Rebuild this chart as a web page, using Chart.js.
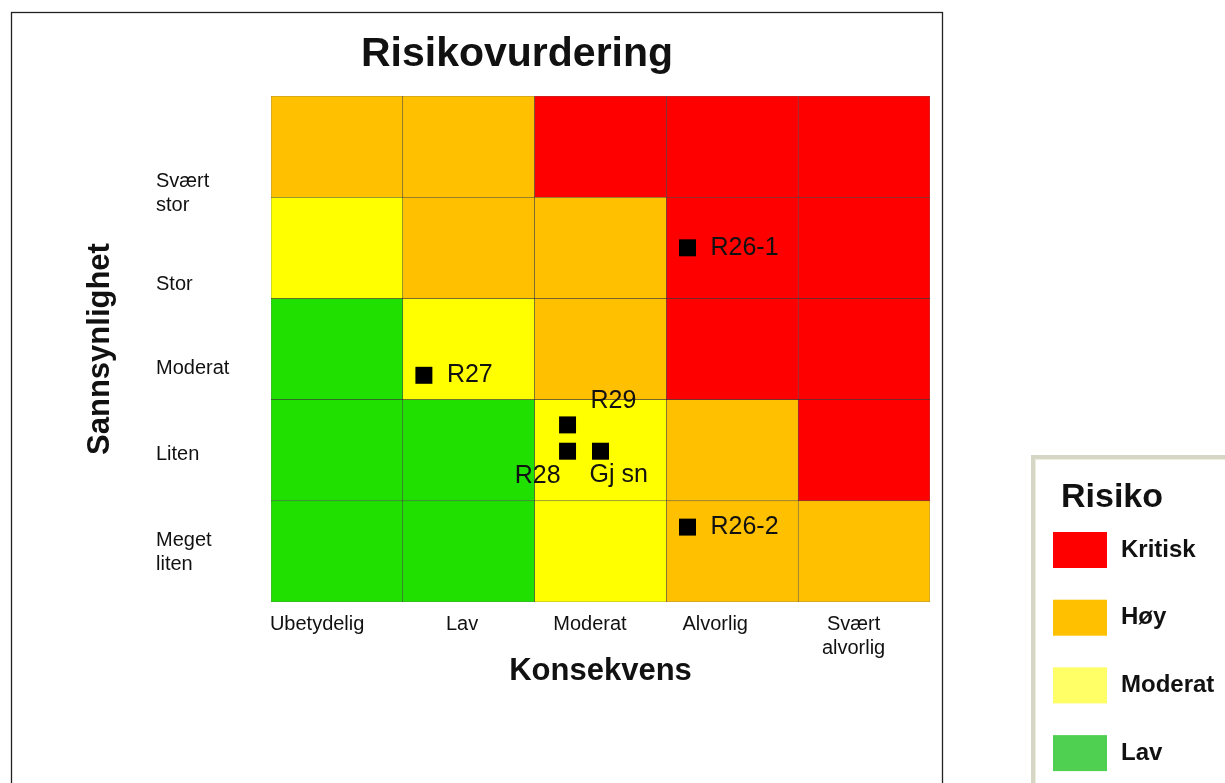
<!DOCTYPE html>
<html>
<head>
<meta charset="utf-8">
<script src="https://cdn.jsdelivr.net/npm/chart.js@4.4.1/dist/chart.umd.min.js"></script>
<style>
html,body{margin:0;padding:0;background:#ffffff;}
#wrap{width:1225px;height:783px;position:relative;overflow:hidden;}
</style>
</head>
<body>
<div id="wrap"><canvas id="c" width="1225" height="783"></canvas></div>
<script>
// ---------- DATA ----------
const chartTitle = 'Risikovurdering';
const xTitle = 'Konsekvens';
const yTitle = 'Sannsynlighet';
const consequences = ['Ubetydelig', 'Lav', 'Moderat', 'Alvorlig', ['Svært', 'alvorlig']];
// bottom to top
const likelihoods = [['Meget', 'liten'], 'Liten', 'Moderat', 'Stor', ['Svært', 'stor']];
const riskLevels = ['Lav', 'Moderat', 'Høy', 'Kritisk'];
// risk level index per cell; rows bottom (Meget liten) to top (Svært stor)
const riskMatrix = [
  [0, 0, 1, 2, 2],
  [0, 0, 1, 2, 3],
  [0, 1, 2, 3, 3],
  [1, 2, 2, 3, 3],
  [2, 2, 3, 3, 3]
];
const legendTitle = 'Risiko';
const pointLabels = ['R26-1', 'R26-2', 'R27', 'R29', 'R28', 'Gj sn'];
const pointX = [3.16, 3.16, 1.16, 2.25, 2.25, 2.50];
const pointY = [3.50, 0.74, 2.24, 1.75, 1.49, 1.49];

// ---------- STYLE / PLACEMENT ----------
const cellColors = ['#20E000', '#FFFF00', '#FFC000', '#FF0000'];
const legendColors = ['#50D050', '#FFFF66', '#FFC000', '#FF0000'];
const xTickPos = [0.35, 1.45, 2.42, 3.37, 4.42];
const yTickPos = [0.49, 1.46, 2.31, 3.14, 4.04];
const labelOffsets = [[23, 0, 'left'], [23, 0, 'left'], [23, 0, 'left'], [23, -24, 'left'], [-7, 25, 'right'], [-11, 24, 'left']];
const FONT = "'Liberation Sans', Arial, Helvetica, sans-serif";
const TEXT = '#111111';

// ---------- BUILD ----------
const cellData = [];
const cellBg = [];
riskMatrix.forEach((row, r) => {
  row.forEach((lvl, c) => {
    cellData.push({x: c + 0.5, y: [r, r + 1]});
    cellBg.push(cellColors[lvl]);
  });
});
const points = pointX.map((x, i) => ({x: x, y: pointY[i]}));

const framePlugin = {
  id: 'frame',
  beforeDraw(chart) {
    const ctx = chart.ctx;
    ctx.save();
    ctx.fillStyle = '#ffffff';
    ctx.fillRect(0, 0, chart.width, chart.height);
    ctx.strokeStyle = '#222222';
    ctx.lineWidth = 1.3;
    ctx.strokeRect(11.5, 12.5, 931, 800);
    ctx.restore();
  }
};

const pointLabelPlugin = {
  id: 'pointLabels',
  afterDatasetsDraw(chart) {
    const meta = chart.getDatasetMeta(1);
    const ctx = chart.ctx;
    ctx.save();
    ctx.font = '25px ' + FONT;
    ctx.fillStyle = TEXT;
    ctx.textBaseline = 'middle';
    meta.data.forEach((el, i) => {
      const off = labelOffsets[i];
      ctx.textAlign = off[2];
      ctx.fillText(pointLabels[i], el.x + off[0], el.y + off[1]);
    });
    ctx.restore();
  }
};

const legendPlugin = {
  id: 'riskLegend',
  afterDraw(chart) {
    const ctx = chart.ctx;
    ctx.save();
    ctx.strokeStyle = '#d6d6c4';
    ctx.lineWidth = 4;
    ctx.strokeRect(1033, 457, 260, 400);
    ctx.strokeStyle = '#ececdf';
    ctx.lineWidth = 1;
    ctx.strokeRect(1035.5, 459.5, 260, 400);
    ctx.fillStyle = TEXT;
    ctx.textAlign = 'left';
    ctx.textBaseline = 'middle';
    ctx.font = 'bold 34px ' + FONT;
    ctx.fillText(legendTitle, 1061, 498);
    ctx.font = 'bold 24px ' + FONT;
    for (let k = 0; k < riskLevels.length; k++) {
      const lvl = riskLevels.length - 1 - k;
      const top = 532 + k * 67.7;
      ctx.fillStyle = legendColors[lvl];
      ctx.fillRect(1053, top, 54, 36);
      ctx.fillStyle = TEXT;
      ctx.fillText(riskLevels[lvl], 1121, top + 18);
    }
    ctx.restore();
  }
};

new Chart(document.getElementById('c'), {
  type: 'bar',
  data: {
    datasets: [
      {
        type: 'bar',
        label: 'cells',
        data: cellData,
        backgroundColor: cellBg,
        borderColor: 'rgba(0,0,0,0.6)',
        borderWidth: 0.6,
        borderSkipped: false,
        barPercentage: 1,
        categoryPercentage: 1,
        grouped: false,
        xAxisID: 'x',
        yAxisID: 'y',
        order: 1
      },
      {
        type: 'scatter',
        label: 'points',
        data: points,
        pointStyle: 'rect',
        radius: 12,
        hoverRadius: 12,
        backgroundColor: '#000000',
        borderWidth: 0,
        xAxisID: 'x',
        yAxisID: 'y',
        order: 0
      }
    ]
  },
  options: {
    responsive: false,
    animation: false,
    devicePixelRatio: 1,
    layout: {padding: {left: 104, right: 295, top: 0, bottom: 0}},
    plugins: {
      legend: {display: false},
      tooltip: {enabled: false},
      title: {
        display: true,
        text: chartTitle,
        color: TEXT,
        font: {family: FONT, size: 41, weight: 'bold', lineHeight: 1.2},
        padding: {top: 30.4, bottom: 16.4}
      }
    },
    scales: {
      x: {
        type: 'linear',
        position: 'bottom',
        display: false,
        min: 0,
        max: 5,
        offset: false,
        ticks: {stepSize: 1}
      },
      x2: {
        type: 'linear',
        position: 'bottom',
        min: 0,
        max: 5,
        offset: false,
        grid: {display: false, drawTicks: false},
        border: {display: false},
        afterBuildTicks(scale) { scale.ticks = xTickPos.map(v => ({value: v})); },
        afterFit(scale) { scale.height = 181; },
        ticks: {
          autoSkip: false,
          maxRotation: 0,
          padding: 10,
          color: TEXT,
          font: {family: FONT, size: 20, lineHeight: 1.2},
          callback: (v, i) => consequences[i]
        },
        title: {
          display: true,
          text: xTitle,
          color: TEXT,
          font: {family: FONT, size: 31, weight: 'bold', lineHeight: 1.2},
          padding: {top: 0, bottom: 93}
        }
      },
      y: {
        type: 'linear',
        position: 'left',
        weight: 0,
        min: 0,
        max: 5,
        grid: {display: false, drawTicks: false},
        border: {display: false},
        afterBuildTicks(scale) { scale.ticks = yTickPos.map(v => ({value: v})); },
        afterFit(scale) { scale.width = 115; },
        ticks: {
          autoSkip: false,
          crossAlign: 'far',
          padding: 10,
          color: TEXT,
          font: {family: FONT, size: 20, lineHeight: 1.2},
          callback: (v, i) => likelihoods[i]
        }
      },
      yTitleAxis: {
        type: 'linear',
        position: 'left',
        weight: 1,
        min: 0,
        max: 5,
        grid: {display: false, drawTicks: false},
        border: {display: false},
        afterFit(scale) { scale.width = 52; },
        ticks: {display: false},
        title: {
          display: true,
          text: yTitle,
          color: TEXT,
          font: {family: FONT, size: 31, weight: 'bold', lineHeight: 1.2},
          padding: {top: -22, bottom: 0}
        }
      }
    }
  },
  plugins: [framePlugin, pointLabelPlugin, legendPlugin]
});
</script>
</body>
</html>
